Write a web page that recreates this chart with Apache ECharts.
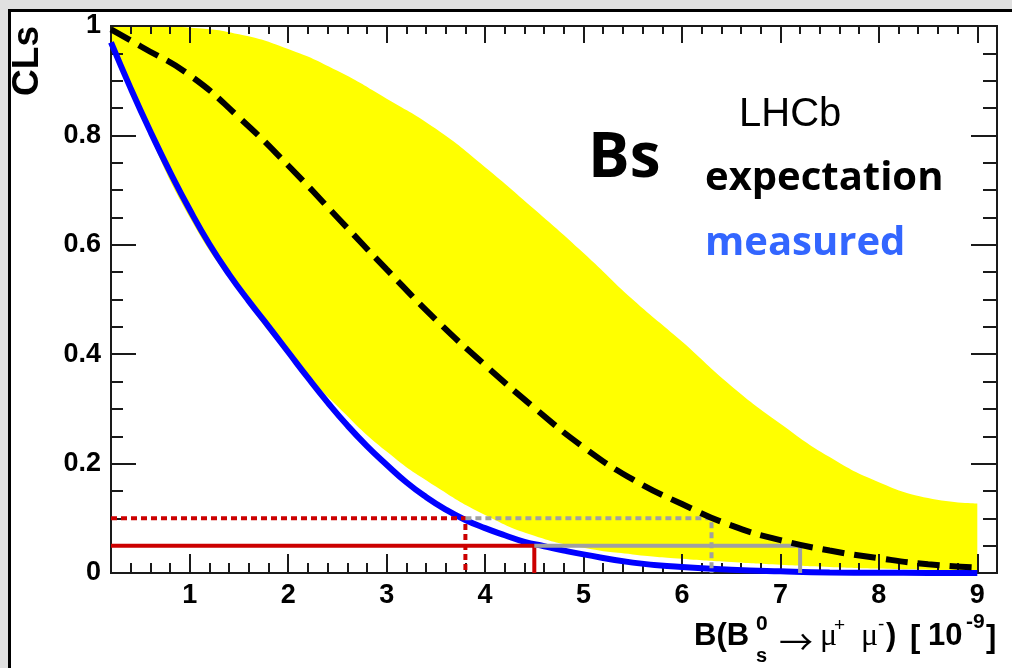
<!DOCTYPE html>
<html>
<head>
<meta charset="utf-8">
<script src="https://cdn.jsdelivr.net/npm/echarts@6/dist/echarts.min.js"></script>
<style>
  html, body { margin: 0; padding: 0; background: #e0e0e0; }
  #chart { width: 1012px; height: 668px; }
</style>
</head>
<body>
<div id="chart"></div>
<script>
// Expected CLs band (yellow): lower and upper edges
const bandX = [0.2, 0.5, 1.0, 1.5, 2.0, 2.5, 3.0, 3.5, 4.0, 4.5, 5.0, 5.5, 6.0, 6.5, 7.0, 7.5, 8.0, 8.5, 9.0];
const bandUpper = [1.0, 1.0, 0.997, 0.985, 0.958, 0.918, 0.867, 0.812, 0.742, 0.665, 0.585, 0.500, 0.423, 0.342, 0.273, 0.212, 0.166, 0.137, 0.127];
const bandLower = [0.965, 0.838, 0.650, 0.515, 0.400, 0.305, 0.222, 0.158, 0.106, 0.068, 0.046, 0.034, 0.026, 0.020, 0.015, 0.011, 0.008, 0.006, 0.005];

// Median expected CLs (black dashed)
const expectedCLs = [0.994, 0.963, 0.910, 0.833, 0.745, 0.650, 0.555, 0.463, 0.380, 0.302, 0.230, 0.171, 0.126, 0.087, 0.060, 0.041, 0.027, 0.016, 0.010];

// Observed CLs (blue)
const measuredX = [0.2, 0.4, 0.6, 0.8, 1.0, 1.2, 1.4, 1.6, 1.8, 2.0, 2.2, 2.4, 2.6, 2.8, 3.0, 3.2, 3.4, 3.6, 3.8, 4.0, 4.2, 4.4, 4.6, 4.8, 5.0, 5.5, 6.0, 6.5, 7.0, 7.5, 8.0, 8.5, 9.0];
const measuredCLs = [0.970, 0.886, 0.807, 0.733, 0.664, 0.601, 0.546, 0.497, 0.451, 0.404, 0.357, 0.312, 0.270, 0.232, 0.198, 0.166, 0.139, 0.116, 0.097, 0.082, 0.069, 0.057, 0.049, 0.041, 0.034, 0.019, 0.011, 0.006, 0.003, 0.001, 0.0005, 0.0002, 0.0];

// Upper limits at 90% and 95% CL: observed and expected
const clLevels = [0.10, 0.05];
const observedLimits = [3.8, 4.5];
const expectedLimits = [6.3, 7.2];

// Axis ranges and tick labels
const xRange = [0.2, 9.2];
const xMajorTicks = [1, 2, 3, 4, 5, 6, 7, 8, 9];
const yRange = [0, 1];
const yStep = 0.2;

const xMinorTicks = [];
for (let k = 2; k <= 45; k++) {
  const v = Math.round(k * 2) / 10;
  if (Math.abs(v - Math.round(v)) > 1e-9 && v > xRange[0] && v < xRange[1]) xMinorTicks.push(v);
}

const pairs = (xs, ys) => xs.map((x, i) => [x, ys[i]]);

const TICK = '#1a1a1a';
const AXIS_LINE = { show: true, onZero: false, lineStyle: { color: '#1a1a1a', width: 2 } };

function xAxis(position, ticks, len, labels) {
  return {
    type: 'value', position, min: xRange[0], max: xRange[1], z: 3,
    axisLine: AXIS_LINE,
    splitLine: { show: false },
    axisTick: { show: true, inside: true, length: len, customValues: ticks, lineStyle: { color: TICK, width: 2 } },
    axisLabel: labels ? {
      show: true, customValues: ticks, margin: 9,
      fontFamily: 'Liberation Sans', fontWeight: 'bold', fontSize: 27, color: '#000'
    } : { show: false }
  };
}

function yAxis(position, len, minorLen, labels) {
  return {
    type: 'value', position, min: yRange[0], max: yRange[1], interval: yStep, z: 3,
    axisLine: AXIS_LINE,
    splitLine: { show: false },
    axisTick: { show: true, inside: true, length: len, lineStyle: { color: TICK, width: 2 } },
    minorTick: { show: true, splitNumber: 4, length: minorLen, lineStyle: { color: TICK, width: 2 } },
    minorSplitLine: { show: false },
    axisLabel: labels ? {
      show: true, margin: 10, showMinLabel: true, showMaxLabel: true,
      fontFamily: 'Liberation Sans', fontWeight: 'bold', fontSize: 27, color: '#000'
    } : { show: false }
  };
}

function limitLine(level, x0, x1, color, dashed) {
  return {
    type: 'line', xAxisIndex: 0, yAxisIndex: 0, symbol: 'none', silent: true, z: 4,
    data: [[x0, level], [x1, level], [x1, yRange[0]]],
    lineStyle: { color, width: 4, type: dashed ? [6, 4] : 'solid' }
  };
}

// Text pieces placed by baseline
function txt(text, x, baseline, size, opts) {
  opts = opts || {};
  return {
    type: 'text', x, y: baseline - 0.36 * size, silent: true, z: 10,
    style: {
      text, fill: opts.fill || '#000',
      font: (opts.weight || 'bold') + ' ' + size + 'px ' + (opts.family || '"Liberation Sans"'),
      textAlign: opts.align || 'left', textVerticalAlign: 'middle'
    }
  };
}

const serif = '"Liberation Serif"';
const option = {
  backgroundColor: '#e0e0e0',
  animation: false,
  grid: { left: 111, right: 15, top: 26, bottom: 95, containLabel: false, show: false },
  xAxis: [
    xAxis('bottom', xMajorTicks, 19, true),
    xAxis('bottom', xMinorTicks, 10, false),
    xAxis('top', xMajorTicks, 17, false),
    xAxis('top', xMinorTicks, 8, false)
  ],
  yAxis: [
    yAxis('left', 25, 12, true),
    yAxis('right', 26, 14, false)
  ],
  graphic: [
    { type: 'rect', z: -100, silent: true, shape: { x: 9.5, y: 10.5, width: 1200, height: 1000 },
      style: { fill: '#ffffff', stroke: '#000000', lineWidth: 3 } },
    // y axis title
    { type: 'text', x: 28, y: 26, rotation: Math.PI / 2, silent: true, z: 10,
      style: { text: 'CLs', font: 'bold 37px "Liberation Sans"', fill: '#000', textAlign: 'right', textVerticalAlign: 'middle' } },
    // x axis title: B(B_s^0 -> mu+ mu-) [10^-9]
    txt('B(B', 694, 648, 31),
    txt('0', 756, 632, 21),
    txt('s', 756, 664, 20),
    txt('\u2192', 779, 654, 34, { weight: 'normal', family: '"Noto Sans CJK SC"' }),
    txt('\u03bc', 820, 648, 32, { weight: 'normal', family: serif }),
    txt('+', 834, 633, 19, { weight: 'normal' }),
    txt('\u03bc', 861, 648, 32, { weight: 'normal', family: serif }),
    txt('-', 878, 632, 19, { weight: 'normal' }),
    txt(')', 886, 648, 31),
    txt('[', 910, 650, 31),
    txt('10', 928, 648, 31),
    txt('-9', 966, 630, 21),
    txt(']', 986, 650, 31),
    // labels inside the frame
    txt('Bs', 588, 182, 62, { family: '"Open Sans"' }),
    txt('LHCb', 739, 129, 40, { weight: 'normal' }),
    txt('expectation', 705, 193, 40, { family: '"Open Sans"' }),
    txt('measured', 705, 258, 40, { family: '"Open Sans"', fill: '#3366ff' })
  ],
  series: [
    {
      // yellow from the upper edge down to the axis
      name: 'band-upper', type: 'line', symbol: 'none', smooth: true, silent: true, z: 1,
      data: pairs(bandX, bandUpper), lineStyle: { width: 0, opacity: 0 },
      areaStyle: { color: '#ffff00', opacity: 1, origin: 'start' }
    },
    {
      // white below the lower edge
      name: 'band-lower', type: 'line', symbol: 'none', smooth: true, silent: true, z: 1,
      data: pairs(bandX, bandLower), lineStyle: { width: 0, opacity: 0 },
      areaStyle: { color: '#ffffff', opacity: 1, origin: 'start' }
    },
    {
      name: 'measured', type: 'line', symbol: 'none', smooth: true, silent: true, z: 4,
      data: pairs(measuredX, measuredCLs), lineStyle: { color: '#0000ff', width: 6 }
    },
    limitLine(clLevels[0], xRange[0], observedLimits[0], '#cc0000', true),
    limitLine(clLevels[1], xRange[0], observedLimits[1], '#cc0000', false),
    limitLine(clLevels[0], observedLimits[0], expectedLimits[0], '#a0a0a0', true),
    limitLine(clLevels[1], observedLimits[1], expectedLimits[1], '#a0a0a0', false),
    {
      name: 'expectation', type: 'line', symbol: 'none', smooth: true, silent: true, z: 5,
      data: pairs(bandX, expectedCLs), lineStyle: { color: '#000', width: 6, type: [22, 10] }
    }
  ]
};

const chart = echarts.init(document.getElementById('chart'), null, { renderer: 'canvas' });
chart.setOption(option);
</script>
</body>
</html>
